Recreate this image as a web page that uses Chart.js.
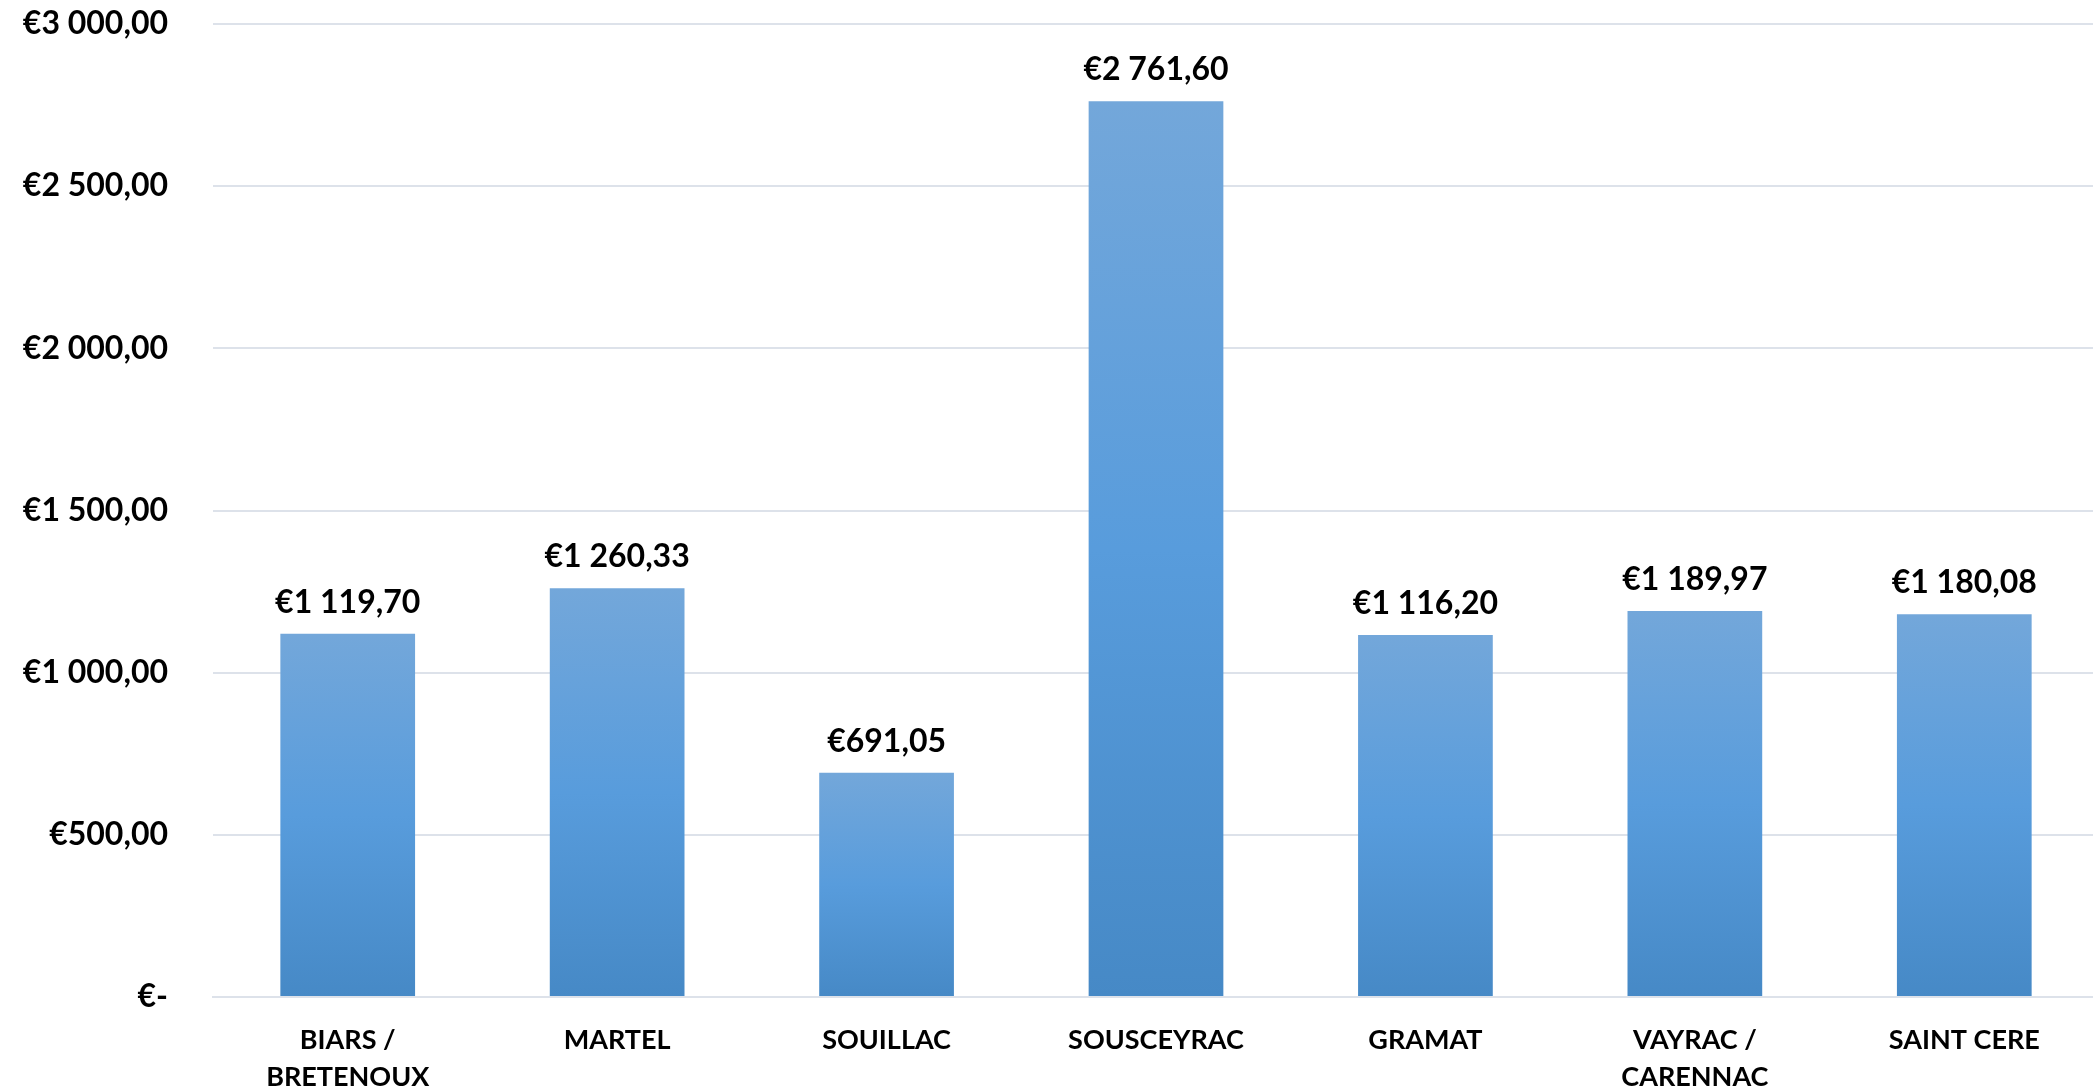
<!DOCTYPE html>
<html>
<head>
<meta charset="utf-8">
<script src="https://cdn.jsdelivr.net/npm/chart.js@4/dist/chart.umd.min.js"></script>
<style>
  html, body { margin: 0; padding: 0; background: #fff; overflow: hidden; }
  /* plot runs a few px past the right window edge, like the original */
  #wrap { width: 2099px; height: 1092px; position: relative; }
</style>
</head>
<body>
<div id="wrap"><canvas id="myChart"></canvas></div>
<script>
const categories = [
  ['BIARS /', 'BRETENOUX'],
  'MARTEL',
  'SOUILLAC',
  'SOUSCEYRAC',
  'GRAMAT',
  ['VAYRAC /', 'CARENNAC'],
  'SAINT CERE'
];
const amounts = [1119.70, 1260.33, 691.05, 2761.60, 1116.20, 1189.97, 1180.08];
const yTicks = [0, 500, 1000, 1500, 2000, 2500, 3000];

const FONT = { family: 'Lato, "Open Sans", sans-serif', size: 32, weight: 'bold', lineHeight: 1.1875 };

// euro format with space thousands and comma decimals
const euro = (v) => {
  if (v === 0) return '€-';
  const [int, dec] = v.toFixed(2).split('.');
  return '€' + int.replace(/\B(?=(\d{3})+(?!\d))/g, ' ') + ',' + dec;
};

// value labels above each bar
const barLabels = {
  id: 'barLabels',
  afterDatasetsDraw(chart) {
    const ctx = chart.ctx;
    const meta = chart.getDatasetMeta(0);
    ctx.save();
    ctx.font = `bold ${FONT.size}px ${FONT.family}`;
    ctx.fillStyle = '#000';
    ctx.textAlign = 'center';
    ctx.textBaseline = 'alphabetic';
    meta.data.forEach((bar, i) => {
      ctx.fillText(euro(amounts[i]), bar.x, bar.y - 21);
    });
    ctx.restore();
  }
};

const ctx = document.getElementById('myChart').getContext('2d');
new Chart(ctx, {
  type: 'bar',
  data: {
    labels: categories,
    datasets: [{
      data: amounts,
      backgroundColor: (c) => {
        const chart = c.chart;
        const y = chart.scales.y;
        if (!y || !chart.chartArea) return '#5b9bd5';
        const top = y.getPixelForValue(c.raw);
        const base = y.getPixelForValue(0);
        const g = chart.ctx.createLinearGradient(0, top, 0, base);
        g.addColorStop(0, '#73a7da');
        g.addColorStop(0.5, '#589cdc');
        g.addColorStop(1, '#4689c6');
        return g;
      },
      borderWidth: 0,
      barPercentage: 0.5,
      categoryPercentage: 1
    }]
  },
  options: {
    responsive: true,
    maintainAspectRatio: false,
    animation: false,
    layout: { padding: { top: 24, right: 0, bottom: 0, left: 0 } },
    plugins: {
      legend: { display: false },
      tooltip: { enabled: false }
    },
    scales: {
      y: {
        min: 0,
        max: 3000,
        afterFit: (scale) => { scale.width = 213; },
        afterBuildTicks: (scale) => { scale.ticks = yTicks.map(v => ({ value: v })); },
        // invisible tick marks give the label gap without extra top padding
        grid: { color: '#dde2ea', lineWidth: 2, drawTicks: true, tickLength: 45, tickColor: 'rgba(0,0,0,0)' },
        border: { display: false },
        ticks: {
          padding: 0,
          color: '#000',
          font: FONT,
          callback: (v) => euro(v)
        }
      },
      x: {
        afterFit: (scale) => { scale.height = 95; },
        grid: { display: false, drawTicks: false },
        border: { display: true, color: '#dde2ea', width: 2 },
        ticks: {
          padding: 25,
          color: '#000',
          font: { ...FONT, size: 27, lineHeight: 1.37 },
          maxRotation: 0,
          autoSkip: false
        }
      }
    }
  },
  plugins: [barLabels]
});
</script>
</body>
</html>
